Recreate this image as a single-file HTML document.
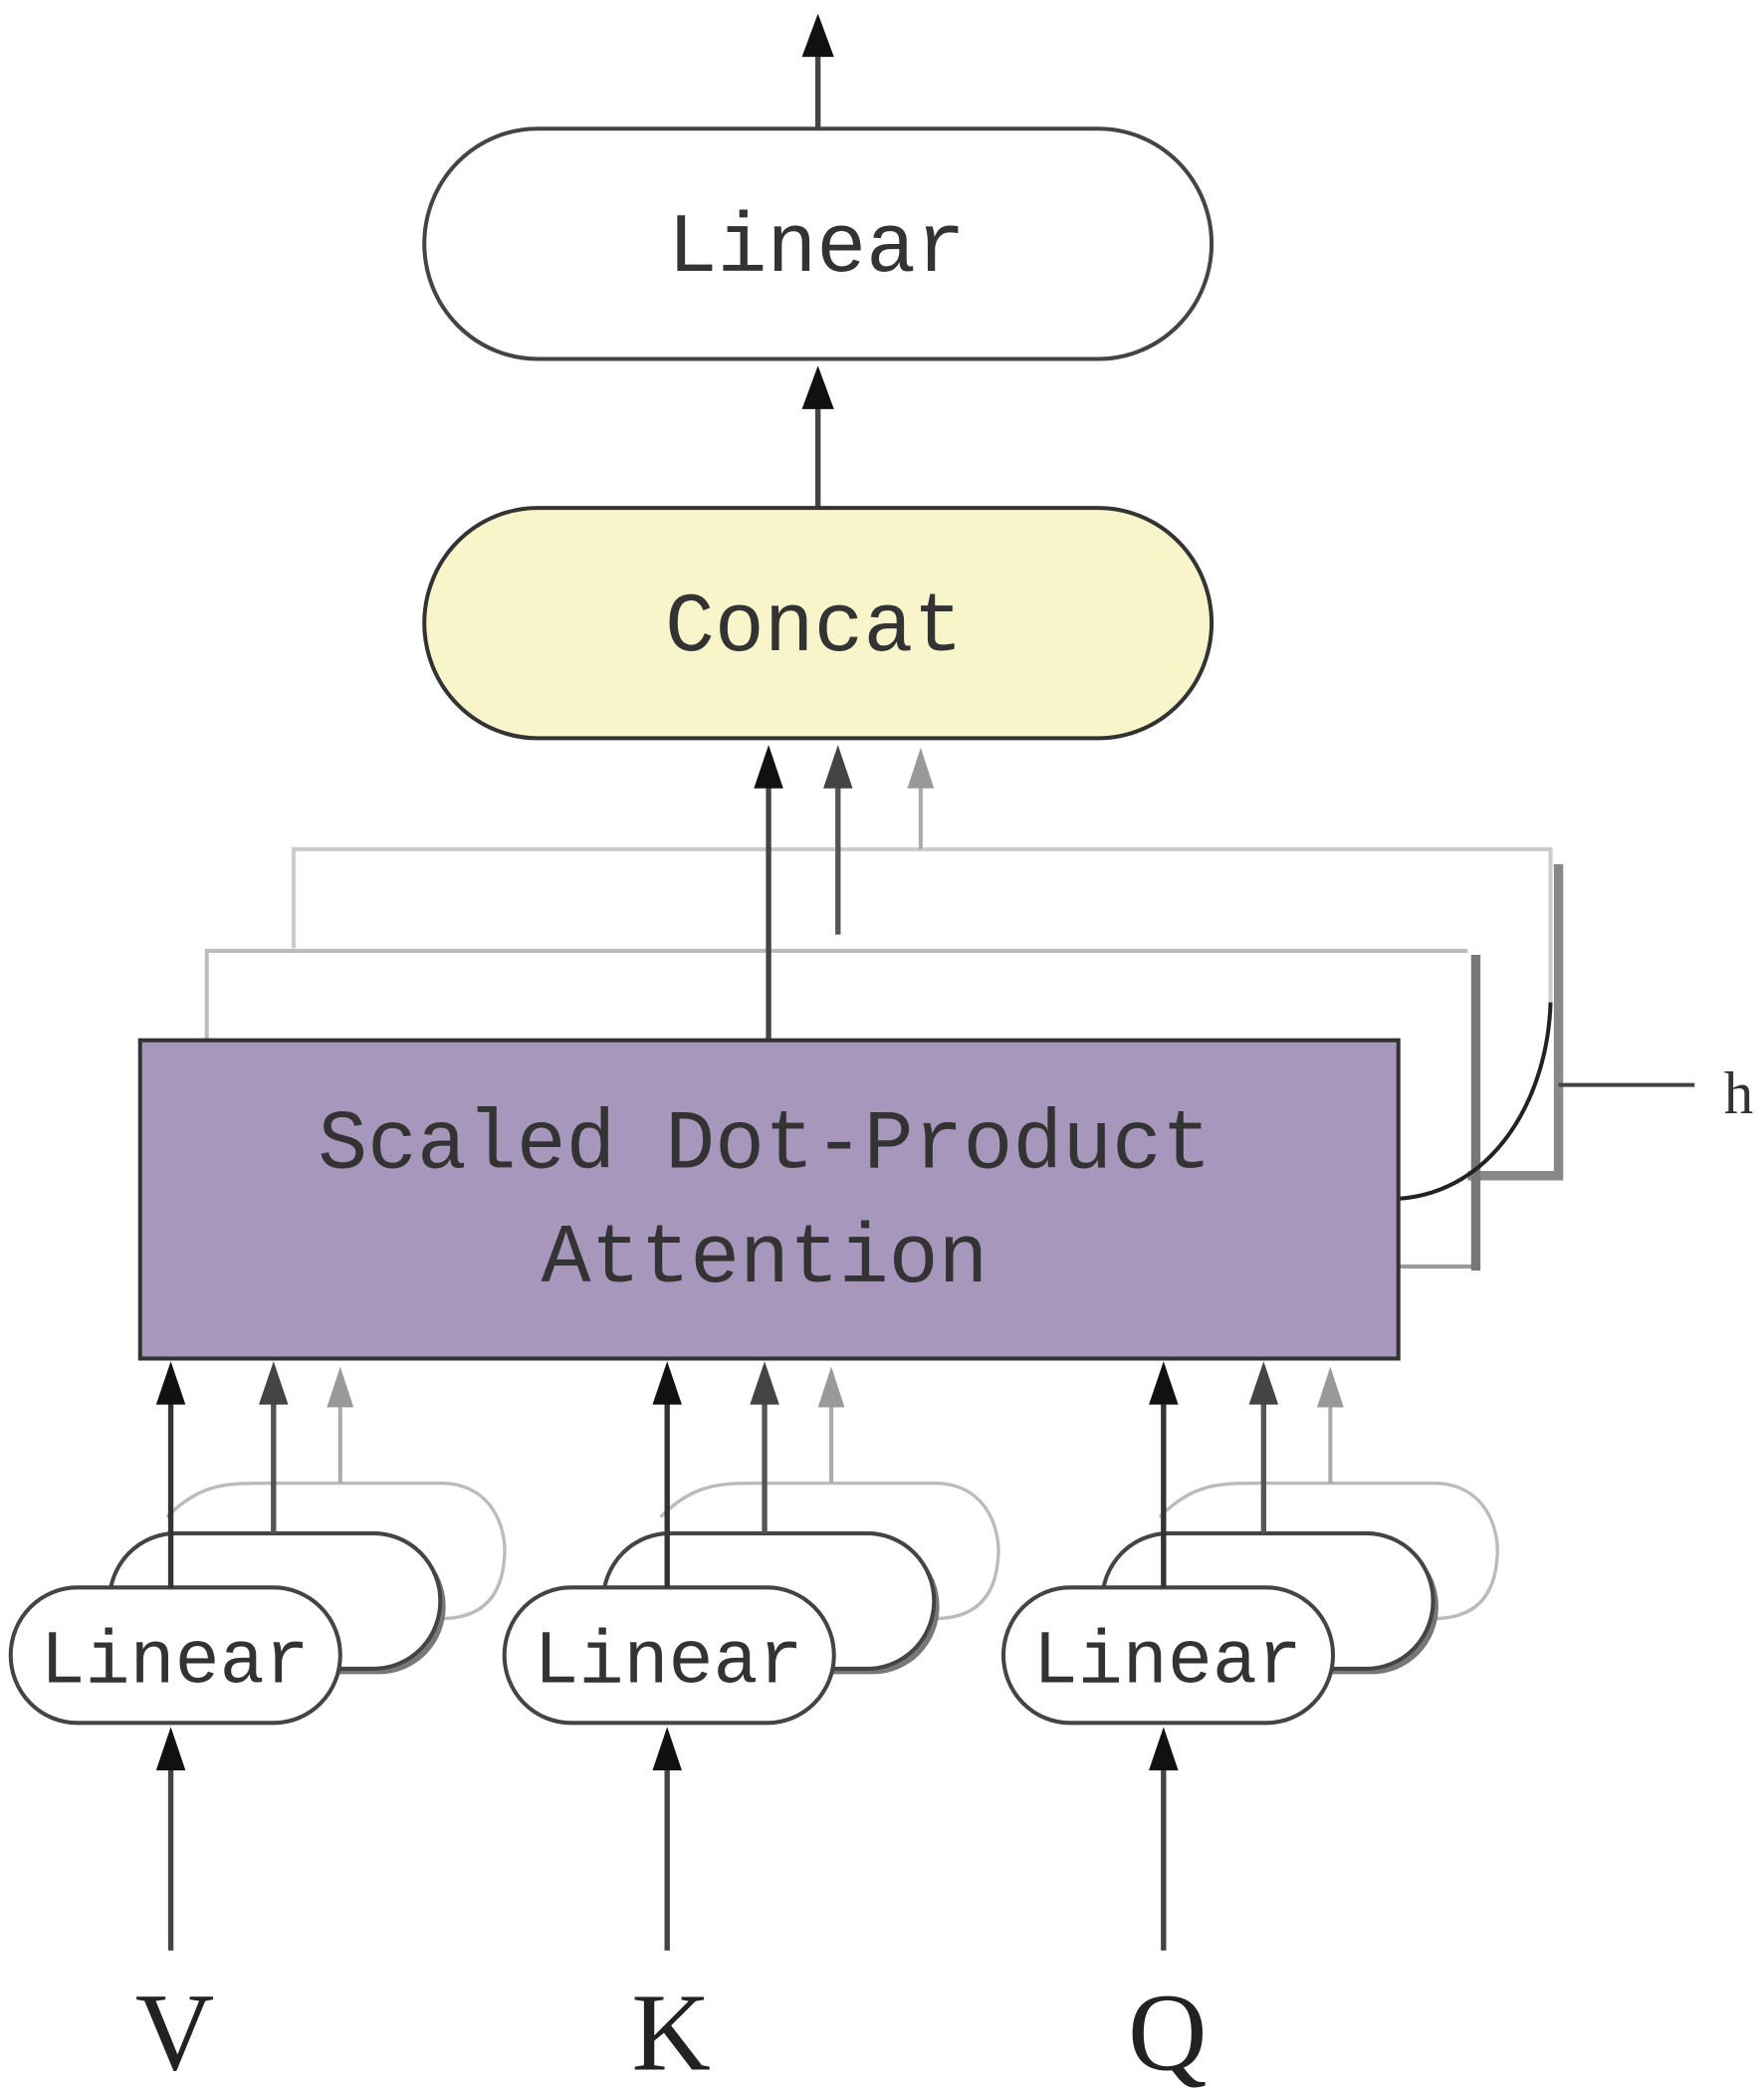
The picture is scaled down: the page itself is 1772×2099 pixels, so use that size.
<!DOCTYPE html>
<html><head><meta charset="utf-8"><style>html,body{margin:0;padding:0;background:#fff}svg{display:block}</style></head>
<body>
<svg width="1772" height="2099" viewBox="0 0 1322 1543" preserveAspectRatio="none" xmlns="http://www.w3.org/2000/svg">
<defs>
<marker id="ab" viewBox="0 0 10 10" refX="5" refY="0" markerWidth="24" markerHeight="30" markerUnits="userSpaceOnUse" orient="auto-start-reverse"><path d="M0,10 L5,0 L10,10 Z" fill="#111"/></marker>
</defs>
<g font-family="'Liberation Mono', monospace" fill="#333" text-anchor="middle">
<!-- top -->
<line x1="613" y1="95" x2="613" y2="40" stroke="#444" stroke-width="4"/>
<path d="M601,42 L613,10 L625,42 Z" fill="#111"/>
<rect x="318" y="95" width="590" height="170" rx="85" fill="#fff" stroke="#444" stroke-width="3"/>
<text x="612" y="200" font-size="62">Linear</text>
<line x1="613" y1="375" x2="613" y2="300" stroke="#444" stroke-width="4"/>
<path d="M601,302 L613,270 L625,302 Z" fill="#111"/>
<rect x="318" y="375" width="590" height="170" rx="85" fill="#f7f5c9" stroke="#333" stroke-width="3"/>
<text x="610" y="480" font-size="62">Concat</text>
<!-- back layers -->
<path d="M220,700 L220,627 L1162,627 L1162,740" fill="none" stroke="#ccc" stroke-width="3"/>
<path d="M1168,638 L1168,868 L1100,868" fill="none" stroke="#888" stroke-width="7"/>
<path d="M155,768 L155,702 L1100,702" fill="none" stroke="#bbb" stroke-width="3"/>
<path d="M1048,935 L1105,935 L1105,705" fill="none" stroke="#999" stroke-width="3"/>
<line x1="1106" y1="705" x2="1106" y2="938" stroke="#777" stroke-width="7"/>
<path d="M1048,885 C1120,880 1160,810 1162,740" fill="none" stroke="#222" stroke-width="3"/>
<line x1="1168" y1="801" x2="1270" y2="801" stroke="#444" stroke-width="3"/>
<text x="1303" y="822" font-size="44" font-family="'Liberation Serif', serif">h</text>
<!-- arrows to concat -->
<line x1="576" y1="768" x2="576" y2="580" stroke="#444" stroke-width="4"/>
<path d="M565,582 L576,550 L587,582 Z" fill="#111"/>
<line x1="628" y1="690" x2="628" y2="580" stroke="#555" stroke-width="4"/>
<path d="M617,582 L628,550 L639,582 Z" fill="#444"/>
<line x1="690" y1="627" x2="690" y2="580" stroke="#aaa" stroke-width="3"/>
<path d="M680,582 L690,552 L700,582 Z" fill="#999"/>
<!-- main -->
<rect x="105" y="768" width="943" height="235" fill="#a797bd" stroke="#333" stroke-width="3"/>
<text x="573" y="862" font-size="62">Scaled Dot-Product</text>
<text x="573" y="946" font-size="62">Attention</text>
</g>
<g id="grp" font-family="'Liberation Mono', monospace" fill="#333" text-anchor="middle">
</g>
<g font-family="'Liberation Mono', monospace" fill="#333">
<!-- V group -->
<g transform="translate(0,0)">
<path d="M125,1120 C150,1095 170,1095 200,1095 L330,1095 C370,1095 380,1130 378,1150 C376,1180 360,1195 330,1195" fill="none" stroke="#bbb" stroke-width="2.5"/>
<rect x="86" y="1136" width="248" height="100" rx="50" fill="#777"/>
<rect x="82" y="1132" width="248" height="100" rx="50" fill="#fff" stroke="#444" stroke-width="3"/>
<rect x="8" y="1172" width="247" height="100" rx="50" fill="#fff" stroke="#444" stroke-width="3"/>
<text x="131" y="1242" font-size="56" text-anchor="middle">Linear</text>
<line x1="128" y1="1172" x2="128" y2="1035" stroke="#333" stroke-width="4"/>
<path d="M117,1037 L128,1005 L139,1037 Z" fill="#111"/>
<line x1="205" y1="1132" x2="205" y2="1035" stroke="#555" stroke-width="4"/>
<path d="M194,1037 L205,1005 L216,1037 Z" fill="#444"/>
<line x1="255" y1="1095" x2="255" y2="1037" stroke="#aaa" stroke-width="3"/>
<path d="M245,1039 L255,1009 L265,1039 Z" fill="#999"/>
<line x1="128" y1="1440" x2="128" y2="1305" stroke="#444" stroke-width="4"/>
<path d="M117,1307 L128,1275 L139,1307 Z" fill="#111"/>
<text x="131" y="1528" font-size="82" font-family="'Liberation Serif', serif" text-anchor="middle" fill="#222">V</text>
</g>
<g transform="translate(370,0)">
<path d="M125,1120 C150,1095 170,1095 200,1095 L330,1095 C370,1095 380,1130 378,1150 C376,1180 360,1195 330,1195" fill="none" stroke="#bbb" stroke-width="2.5"/>
<rect x="86" y="1136" width="248" height="100" rx="50" fill="#777"/>
<rect x="82" y="1132" width="248" height="100" rx="50" fill="#fff" stroke="#444" stroke-width="3"/>
<rect x="8" y="1172" width="247" height="100" rx="50" fill="#fff" stroke="#444" stroke-width="3"/>
<text x="131" y="1242" font-size="56" text-anchor="middle">Linear</text>
<line x1="130" y1="1172" x2="130" y2="1035" stroke="#333" stroke-width="4"/>
<path d="M119,1037 L130,1005 L141,1037 Z" fill="#111"/>
<line x1="203" y1="1132" x2="203" y2="1035" stroke="#555" stroke-width="4"/>
<path d="M192,1037 L203,1005 L214,1037 Z" fill="#444"/>
<line x1="253" y1="1095" x2="253" y2="1037" stroke="#aaa" stroke-width="3"/>
<path d="M243,1039 L253,1009 L263,1039 Z" fill="#999"/>
<line x1="130" y1="1440" x2="130" y2="1305" stroke="#444" stroke-width="4"/>
<path d="M119,1307 L130,1275 L141,1307 Z" fill="#111"/>
<text x="133" y="1528" font-size="82" font-family="'Liberation Serif', serif" text-anchor="middle" fill="#222">K</text>
</g>
<g transform="translate(744,0)">
<path d="M125,1120 C150,1095 170,1095 200,1095 L330,1095 C370,1095 380,1130 378,1150 C376,1180 360,1195 330,1195" fill="none" stroke="#bbb" stroke-width="2.5"/>
<rect x="86" y="1136" width="248" height="100" rx="50" fill="#777"/>
<rect x="82" y="1132" width="248" height="100" rx="50" fill="#fff" stroke="#444" stroke-width="3"/>
<rect x="8" y="1172" width="247" height="100" rx="50" fill="#fff" stroke="#444" stroke-width="3"/>
<text x="131" y="1242" font-size="56" text-anchor="middle">Linear</text>
<line x1="128" y1="1172" x2="128" y2="1035" stroke="#333" stroke-width="4"/>
<path d="M117,1037 L128,1005 L139,1037 Z" fill="#111"/>
<line x1="203" y1="1132" x2="203" y2="1035" stroke="#555" stroke-width="4"/>
<path d="M192,1037 L203,1005 L214,1037 Z" fill="#444"/>
<line x1="253" y1="1095" x2="253" y2="1037" stroke="#aaa" stroke-width="3"/>
<path d="M243,1039 L253,1009 L263,1039 Z" fill="#999"/>
<line x1="128" y1="1440" x2="128" y2="1305" stroke="#444" stroke-width="4"/>
<path d="M117,1307 L128,1275 L139,1307 Z" fill="#111"/>
<text x="131" y="1528" font-size="82" font-family="'Liberation Serif', serif" text-anchor="middle" fill="#222">Q</text>
</g>
</g>
</svg>
</body></html>
